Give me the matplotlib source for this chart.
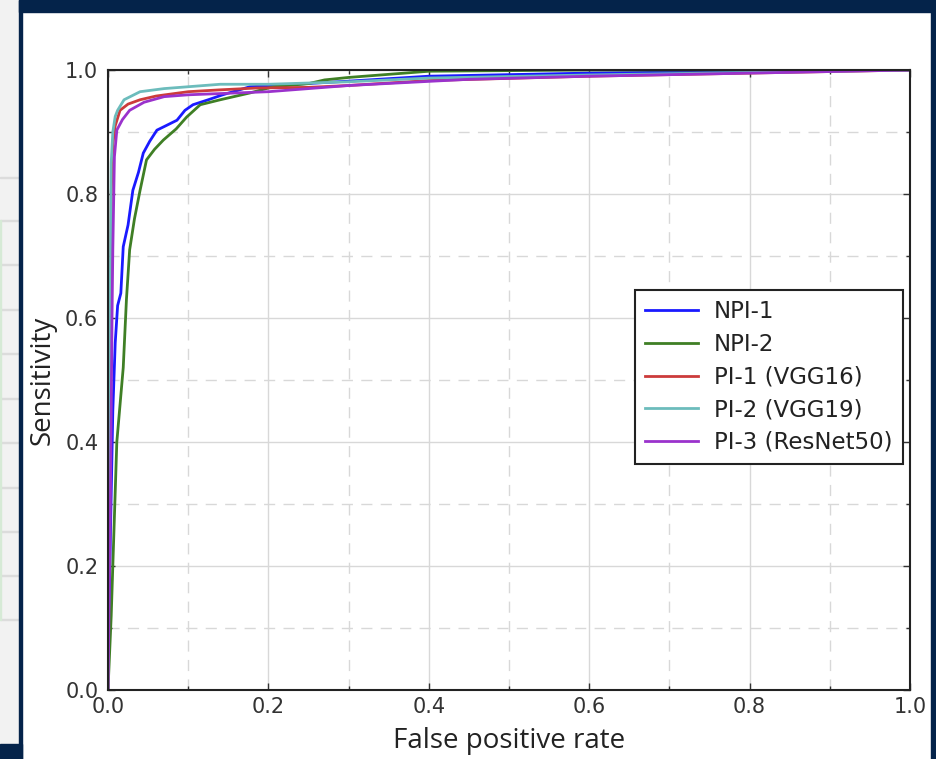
import matplotlib
matplotlib.use("Agg")
import matplotlib.pyplot as plt
from matplotlib.patches import Rectangle
from matplotlib.ticker import MultipleLocator

# ── ROC curve points ──────────────────────────────────────────────────────────
npi1_fpr = [0.0, 0.003, 0.006, 0.009, 0.012, 0.016, 0.019, 0.025, 0.031, 0.038,
            0.044, 0.052, 0.061, 0.072, 0.086, 0.096, 0.106, 0.125, 0.143, 0.177,
            0.22, 0.3, 0.4, 0.6, 0.8, 1.0]
npi1_tpr = [0.0, 0.25, 0.45, 0.56, 0.62, 0.64, 0.715, 0.75, 0.806, 0.835,
            0.866, 0.885, 0.903, 0.91, 0.919, 0.935, 0.944, 0.952, 0.96, 0.973,
            0.976, 0.982, 0.99, 0.995, 0.998, 1.0]

npi2_fpr = [0.0, 0.004, 0.008, 0.011, 0.015, 0.019, 0.023, 0.027, 0.033, 0.04,
            0.048, 0.058, 0.069, 0.085, 0.098, 0.115, 0.14, 0.177, 0.206, 0.25,
            0.27, 0.3, 0.35, 0.4, 0.6, 1.0]
npi2_tpr = [0.0, 0.12, 0.28, 0.40, 0.46, 0.52, 0.63, 0.71, 0.76, 0.806,
            0.855, 0.872, 0.887, 0.905, 0.924, 0.944, 0.952, 0.963, 0.973, 0.978,
            0.984, 0.988, 0.993, 0.998, 1.0, 1.0]

pi1_fpr = [0.0, 0.002, 0.004, 0.006, 0.009, 0.015, 0.025, 0.04, 0.06, 0.1,
           0.14, 0.186, 0.25, 0.3, 0.4, 0.6, 0.8, 1.0]
pi1_tpr = [0.0, 0.45, 0.8, 0.88, 0.91, 0.935, 0.945, 0.952, 0.958, 0.965,
           0.968, 0.971, 0.972, 0.975, 0.983, 0.99, 0.995, 1.0]

pi2_fpr = [0.0, 0.002, 0.004, 0.006, 0.009, 0.012, 0.02, 0.04, 0.07, 0.1,
           0.14, 0.2, 0.3, 0.4, 0.6, 0.8, 1.0]
pi2_tpr = [0.0, 0.5, 0.85, 0.9, 0.925, 0.935, 0.952, 0.965, 0.97, 0.973,
           0.977, 0.977, 0.981, 0.987, 0.992, 0.996, 1.0]

pi3_fpr = [0.0, 0.003, 0.005, 0.006, 0.008, 0.011, 0.018, 0.027, 0.045, 0.07,
           0.1, 0.2, 0.3, 0.45, 0.6, 0.8, 1.0]
pi3_tpr = [0.0, 0.3, 0.6, 0.71, 0.86, 0.903, 0.92, 0.935, 0.948, 0.957,
           0.96, 0.965, 0.975, 0.985, 0.99, 0.995, 1.0]

LABELS = ["NPI-1", "NPI-2", "PI-1 (VGG16)", "PI-2 (VGG19)", "PI-3 (ResNet50)"]
COLORS = ["#1a1aff", "#3f7f25", "#cc3b3b", "#6cbcbc", "#9a32cc"]
TICKS = [0.0, 0.2, 0.4, 0.6, 0.8, 1.0]

NAVY = "#04234a"

fig = plt.figure(figsize=(9.37, 7.59), dpi=100)
W, H = 937, 759

# ── screenshot frame ──────────────────────────────────────────────────────────
def px_rect(x0, y0, x1, y1, color):
    fig.patches.append(Rectangle((x0 / W, 1 - y1 / H), (x1 - x0) / W, (y1 - y0) / H,
                                 transform=fig.transFigure, color=color, zorder=0))

px_rect(0, 0, 19, 759, "#f2f2f2")
for yy in [177, 220, 264, 309, 353, 398, 442, 487, 531, 575, 619]:
    px_rect(0, yy, 19, yy + 1, "#dcdcdc")
px_rect(0, 220, 1, 620, "#d6ead6")
px_rect(19, 0, 22, 759, NAVY)
px_rect(19, 0, 937, 12, NAVY)
px_rect(931, 0, 937, 759, NAVY)
px_rect(0, 744, 22, 759, NAVY)

ax = fig.add_axes([108 / W, 1 - 690 / H, 802 / W, 620 / H])

series = [(npi1_fpr, npi1_tpr), (npi2_fpr, npi2_tpr), (pi1_fpr, pi1_tpr),
          (pi2_fpr, pi2_tpr), (pi3_fpr, pi3_tpr)]
for (xs, ys), lab, col in zip(series, LABELS, COLORS):
    ax.plot(xs, ys, color=col, linewidth=2, label=lab)

ax.set_xlim(0, 1)
ax.set_ylim(0, 1)
ax.set_xticks(TICKS)
ax.set_yticks(TICKS)
ax.set_xticklabels([f"{t:.1f}" for t in TICKS])
ax.set_yticklabels([f"{t:.1f}" for t in TICKS])
ax.xaxis.set_minor_locator(MultipleLocator(0.1))
ax.yaxis.set_minor_locator(MultipleLocator(0.1))
ax.grid(which="major", color="#d8d8d8", linewidth=1, linestyle="-")
ax.grid(which="minor", color="#d8d8d8", linewidth=1, linestyle=(0, (8, 6)))
ax.set_axisbelow(True)
ax.tick_params(which="both", direction="in", top=True, right=True,
               labelsize=15, colors="#333333", length=5, width=1)
ax.tick_params(axis="x", pad=5)
ax.tick_params(axis="y", pad=7)
ax.tick_params(which="minor", length=3)
for sp in ax.spines.values():
    sp.set_linewidth(1.5)
    sp.set_color("#222222")

ax.set_xlabel("False positive rate", fontsize=20, color="#222222",
              family="Open Sans", labelpad=7)
ax.set_ylabel("Sensitivity", fontsize=20, color="#222222",
              family="Open Sans", labelpad=6)

leg = ax.legend(loc="upper right", bbox_to_anchor=(0.991, 0.645), fontsize=16.5,
                fancybox=False, framealpha=1, edgecolor="#222222",
                handlelength=2.3, borderpad=0.45, labelspacing=0.42,
                handletextpad=0.7, borderaxespad=0)
leg.get_frame().set_linewidth(1.5)
for t in leg.get_texts():
    t.set_color("#222222")

fig.savefig("out.png", dpi=100, facecolor="white")
